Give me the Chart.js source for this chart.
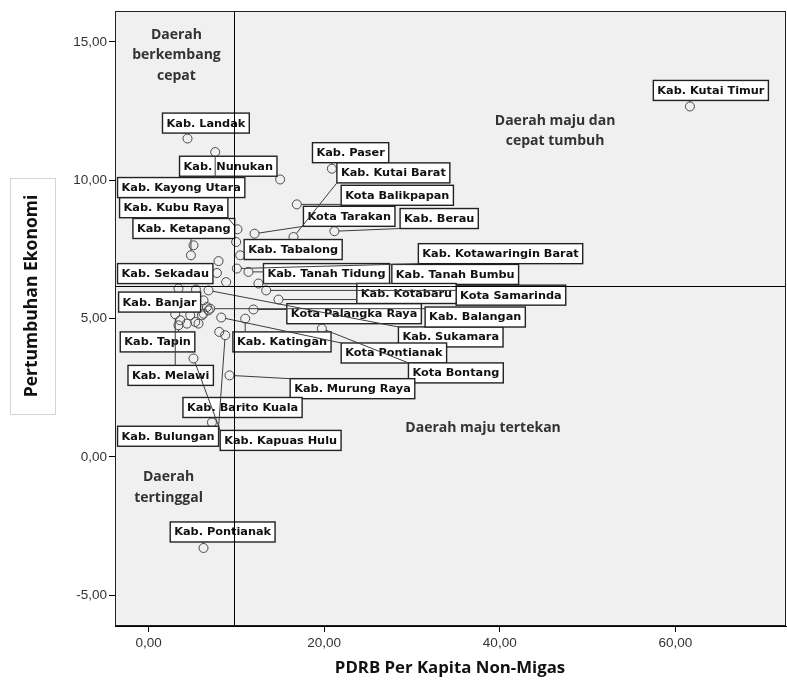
<!DOCTYPE html>
<html>
<head>
<meta charset="utf-8">
<script src="https://cdn.jsdelivr.net/npm/chart.js@4/dist/chart.umd.min.js"></script>
<style>
  html, body { margin: 0; padding: 0; background: #fff; }
  #wrap { width: 787px; height: 682px; }
</style>
</head>
<body>
<div id="wrap"><canvas id="c" width="787" height="682"></canvas></div>
<script>
// labelled regions: PDRB per kapita non-migas (x) and pertumbuhan ekonomi (y)
const regionNames = [
  "Kab. Kutai Timur", "Kab. Landak", "Kab. Kayong Utara", "Kab. Nunukan", "Kab. Paser",
  "Kota Balikpapan", "Kab. Kutai Barat", "Kota Tarakan", "Kab. Berau", "Kab. Kubu Raya",
  "Kab. Ketapang", "Kab. Tabalong", "Kab. Kotawaringin Barat", "Kab. Tanah Tidung", "Kab. Sekadau",
  "Kab. Tanah Bumbu", "Kota Samarinda", "Kab. Kotabaru", "Kab. Banjar", "Kab. Sukamara",
  "Kota Palangka Raya", "Kab. Balangan", "Kab. Katingan", "Kota Pontianak", "Kota Bontang",
  "Kab. Tapin", "Kab. Melawi", "Kab. Bulungan", "Kab. Kapuas Hulu", "Kab. Murung Raya",
  "Kab. Barito Kuala", "Kab. Pontianak"
];
const regionPdrb = [
  61.66, 4.44, 7.59, 14.99, 20.88,
  16.89, 16.51, 12.07, 21.17, 10.13,
  4.83, 10.44, 10.06, 11.38, 7.79,
  12.52, 13.40, 14.80, 6.26, 6.83,
  11.95, 7.02, 11.01, 8.28, 19.74,
  3.41, 3.04, 8.73, 5.12, 9.22,
  7.22, 6.26
];
const regionGrowth = [
  12.67, 11.51, 11.02, 10.03, 10.42,
  9.13, 7.95, 8.07, 8.16, 8.23,
  7.29, 7.29, 6.81, 6.69, 6.65,
  6.27, 6.02, 5.69, 5.66, 6.02,
  5.33, 5.36, 5.00, 5.04, 4.64,
  4.76, 5.16, 4.40, 3.56, 2.95,
  1.25, -3.29
];
// points without a visible label
const otherPdrb = [9.98, 5.12, 7.97, 8.84, 3.41, 5.40, 6.65, 5.32, 4.75, 6.08, 3.61, 5.69, 4.37, 5.32, 8.05, 6.83, 6.26];
const otherGrowth = [7.77, 7.65, 7.08, 6.32, 6.09, 6.05, 5.42, 5.42, 5.12, 5.12, 4.94, 4.82, 4.82, 4.88, 4.52, 5.30, 5.18];

// mean lines splitting the quadrants
const meanPdrb = 9.70;
const meanGrowth = 6.18;

const xTicks = [0, 20, 40, 60];
const yTicks = [-5, 0, 5, 10, 15];

// where each label box sits (top-left corner, in axis units)
const labelAt = [
  [57.49, 13.61], [1.59, 12.43], [-3.53, 10.10], [3.53, 10.87], [18.67, 11.36],
  [21.94, 9.82], [21.45, 10.63], [17.64, 9.06], [28.65, 8.98], [-3.30, 9.37],
  [-1.78, 8.62], [10.89, 7.86], [30.73, 7.71], [13.09, 6.99], [-3.53, 6.99],
  [27.71, 6.96], [35.03, 6.21], [23.72, 6.27], [-3.41, 5.96], [28.46, 4.70],
  [15.75, 5.54], [31.50, 5.42], [9.61, 4.52], [21.94, 4.12], [29.60, 3.40],
  [-3.22, 4.52], [-2.34, 3.31], [-3.53, 1.11], [8.16, 0.96], [16.13, 2.83],
  [3.92, 2.15], [2.47, -2.35]
];

// quadrant captions (centre of each block, axis units)
const quadrantText = [
  { lines: ["Daerah", "berkembang", "cepat"], at: [3.18, 14.52] },
  { lines: ["Daerah maju dan", "cepat tumbuh"], at: [46.3, 11.79] },
  { lines: ["Daerah maju tertekan"], at: [38.1, 1.04] },
  { lines: ["Daerah", "tertinggal"], at: [2.28, -1.11] }
];

const fmt = v => v.toFixed(2).replace(".", ",");

const points = regionPdrb.map((x, i) => ({ x: x, y: regionGrowth[i] }))
  .concat(otherPdrb.map((x, i) => ({ x: x, y: otherGrowth[i] })));

const quadPlugin = {
  id: "quad",
  beforeDatasetsDraw(chart) {
    const { ctx, chartArea: a } = chart;
    ctx.save();
    ctx.fillStyle = "#f0f0f0";
    ctx.fillRect(a.left, a.top, a.right - a.left, a.bottom - a.top);
    ctx.restore();
  },
  afterDatasetsDraw(chart) {
    const { ctx, chartArea: a } = chart;
    const xs = chart.scales.x, ys = chart.scales.y;
    ctx.save();

    // quadrant captions
    ctx.fillStyle = "#333";
    ctx.font = "bold 14px 'Open Sans'";
    ctx.textAlign = "center";
    ctx.textBaseline = "middle";
    quadrantText.forEach(q => {
      const cx = xs.getPixelForValue(q.at[0]);
      const cy = ys.getPixelForValue(q.at[1]);
      const lh = 20.5;
      q.lines.forEach((t, k) => {
        ctx.fillText(t, cx, cy + (k - (q.lines.length - 1) / 2) * lh);
      });
    });

    // label boxes
    ctx.font = "bold 11.3px 'DejaVu Sans'";
    ctx.textAlign = "left";
    const boxes = regionNames.map((name, i) => {
      const L = xs.getPixelForValue(labelAt[i][0]);
      const T = ys.getPixelForValue(labelAt[i][1]);
      const w = ctx.measureText(name).width + 8;
      return { L: L, T: T, R: L + w, B: T + 20, name: name };
    });
    boxes.forEach(b => {
      ctx.fillStyle = "#fff";
      ctx.fillRect(b.L, b.T, b.R - b.L, b.B - b.T);
      ctx.strokeStyle = "#222";
      ctx.lineWidth = 1.4;
      ctx.strokeRect(b.L, b.T, b.R - b.L, b.B - b.T);
      ctx.fillStyle = "#111";
      ctx.fillText(b.name, b.L + 4, b.T + 10.5);
    });

    // leader lines from each point to its box
    ctx.strokeStyle = "#3c3c3c";
    ctx.lineWidth = 1;
    boxes.forEach((b, i) => {
      const px = xs.getPixelForValue(regionPdrb[i]);
      const py = ys.getPixelForValue(regionGrowth[i]);
      const cx = Math.min(Math.max(px, b.L), b.R);
      const cy = Math.min(Math.max(py, b.T), b.B);
      const d = Math.hypot(cx - px, cy - py);
      if (d < 5) return;
      ctx.beginPath();
      ctx.moveTo(px + (cx - px) / d * 4.5, py + (cy - py) / d * 4.5);
      ctx.lineTo(cx, cy);
      ctx.stroke();
    });

    // mean lines
    ctx.strokeStyle = "#000";
    ctx.lineWidth = 1;
    const mx = Math.round(xs.getPixelForValue(meanPdrb)) + 0.5;
    const my = Math.round(ys.getPixelForValue(meanGrowth)) + 0.5;
    ctx.beginPath();
    ctx.moveTo(mx, a.top); ctx.lineTo(mx, a.bottom);
    ctx.moveTo(a.left, my); ctx.lineTo(a.right, my);
    ctx.stroke();

    // frame
    ctx.strokeStyle = "#222";
    ctx.strokeRect(a.left + 0.5, a.top + 0.5, a.right - a.left - 1, a.bottom - a.top - 1);
    ctx.restore();
  },
  afterDraw(chart) {
    const { ctx } = chart;
    ctx.save();
    ctx.fillStyle = "#111";
    ctx.textAlign = "center";
    ctx.textBaseline = "middle";
    ctx.font = "bold 16.8px 'Open Sans'";
    ctx.fillText("PDRB Per Kapita Non-Migas", 450, 668);

    // y title inside a thin box
    ctx.strokeStyle = "#d4d4d4";
    ctx.lineWidth = 1;
    ctx.strokeRect(10.5, 178.5, 45, 236);
    ctx.translate(32, 296);
    ctx.rotate(-Math.PI / 2);
    ctx.font = "bold 17.5px 'Open Sans'";
    ctx.fillText("Pertumbuhan Ekonomi", 0, 0);
    ctx.restore();
  }
};

new Chart(document.getElementById("c"), {
  type: "scatter",
  data: {
    datasets: [{
      data: points,
      pointStyle: "circle",
      pointRadius: 4.5,
      pointBorderWidth: 1,
      pointBorderColor: "#4a4a4a",
      pointBackgroundColor: "rgba(0,0,0,0)",
      pointHoverRadius: 4.5
    }]
  },
  options: {
    responsive: false,
    animation: false,
    devicePixelRatio: 1,
    layout: { autoPadding: false, padding: { top: 11, right: 1, left: 0, bottom: 0 } },
    plugins: { legend: { display: false }, tooltip: { enabled: false } },
    scales: {
      x: {
        type: "linear",
        min: -3.82,
        max: 72.6,
        afterBuildTicks: s => { s.ticks = xTicks.map(v => ({ value: v })); },
        afterFit: s => { s.height = 56; },
        ticks: {
          callback: v => fmt(v),
          color: "#333",
          font: { family: "Liberation Sans", size: 13.5 },
          padding: 3
        },
        grid: { drawOnChartArea: false, tickLength: 6, color: "#000" },
        border: { color: "#000" }
      },
      y: {
        type: "linear",
        min: -6.11,
        max: 16.12,
        afterBuildTicks: s => { s.ticks = yTicks.map(v => ({ value: v })); },
        afterFit: s => { s.width = 115; },
        ticks: {
          callback: v => fmt(v),
          color: "#333",
          font: { family: "Liberation Sans", size: 13.5 },
          padding: 2
        },
        grid: { drawOnChartArea: false, tickLength: 6, color: "#000" },
        border: { color: "#000" }
      }
    }
  },
  plugins: [quadPlugin]
});
</script>
</body>
</html>
